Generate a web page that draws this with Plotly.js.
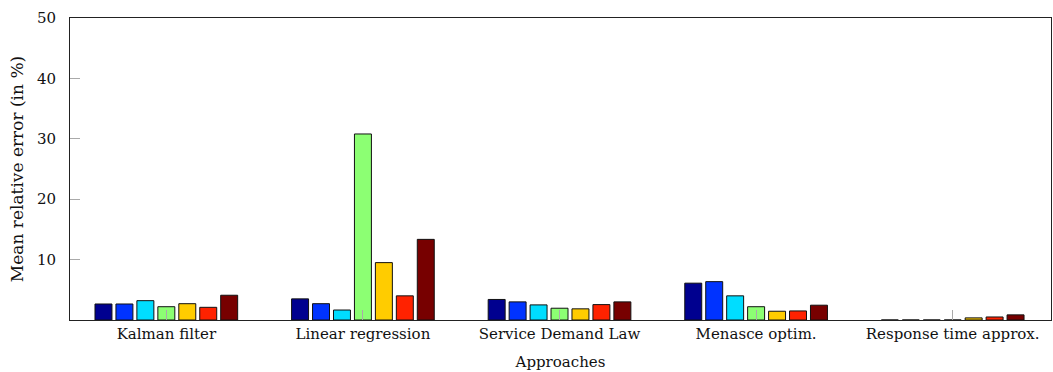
<!DOCTYPE html>
<html>
<head>
<meta charset="utf-8">
<script src="https://cdn.plot.ly/plotly-3.0.1.min.js"></script>
<style>html,body{margin:0;padding:0;background:#fff;} #chart{width:1053px;height:372px;}</style>
</head>
<body>
<div id="chart"></div>
<script>
const categories = ["Kalman filter", "Linear regression", "Service Demand Law", "Menasce optim.", "Response time approx."];
const seriesNames = ["S1", "S2", "S3", "S4", "S5", "S6", "S7"];
const s1 = [2.65, 3.5, 3.4, 6.1, 0];
const s2 = [2.65, 2.7, 3.0, 6.35, 0];
const s3 = [3.2, 1.65, 2.5, 4.0, 0];
const s4 = [2.2, 30.8, 1.95, 2.2, 0];
const s5 = [2.7, 9.5, 1.85, 1.45, 0.35];
const s6 = [2.1, 4.0, 2.55, 1.5, 0.5];
const s7 = [4.1, 13.35, 3.0, 2.45, 0.85];
const seriesValues = [s1, s2, s3, s4, s5, s6, s7];
const seriesColors = ["#00008f", "#0033ff", "#00ddff", "#8cff73", "#ffcc00", "#ff2200", "#770000"];
const yTickVals = [10, 20, 30, 40, 50];

const fontFamily = "DejaVu Serif, serif";
const fs = 15;
const txtColor = "#111";
const traces = seriesValues.map((vals, i) => ({
  type: "bar",
  name: seriesNames[i],
  x: categories.map((c, k) => k),
  y: vals,
  marker: {color: seriesColors[i], line: {color: "#111", width: 1}},
  hoverinfo: "skip"
}));

const layout = {
  width: 1053, height: 372,
  margin: {l: 70, r: 2, t: 18, b: 52},
  paper_bgcolor: "#fff", plot_bgcolor: "#fff",
  showlegend: false,
  barmode: "group",
  bargap: 0.254,
  bargroupgap: 0.19,
  font: {family: fontFamily, size: fs, color: txtColor},
  xaxis: {
    range: [-0.49, 4.5],
    tickmode: "array",
    tickvals: [0, 1, 2, 3, 4],
    ticktext: categories,
    ticks: "inside", ticklen: 10, tickcolor: "#aaa", tickwidth: 1,
    showline: true, linecolor: "#222", linewidth: 1, mirror: true,
    showgrid: false, zeroline: false,
    tickfont: {family: fontFamily, size: fs, color: txtColor},
    title: {text: "Approaches", font: {family: fontFamily, size: fs, color: txtColor}, standoff: 14},
    automargin: false, fixedrange: true
  },
  yaxis: {
    range: [0, 50],
    tickmode: "array",
    tickvals: yTickVals,
    ticks: "inside", ticklen: 10, tickcolor: "#aaa", tickwidth: 1,
    showline: true, linecolor: "#222", linewidth: 1, mirror: true,
    showgrid: false, zeroline: false,
    ticklabelstandoff: 10,
    tickfont: {family: fontFamily, size: fs, color: txtColor},
    title: {text: "Mean relative error (in %)", font: {family: fontFamily, size: 17, color: txtColor}, standoff: 8},
    automargin: false, fixedrange: true
  }
};

Plotly.newPlot("chart", traces, layout, {displayModeBar: false, staticPlot: true});
</script>
</body>
</html>
